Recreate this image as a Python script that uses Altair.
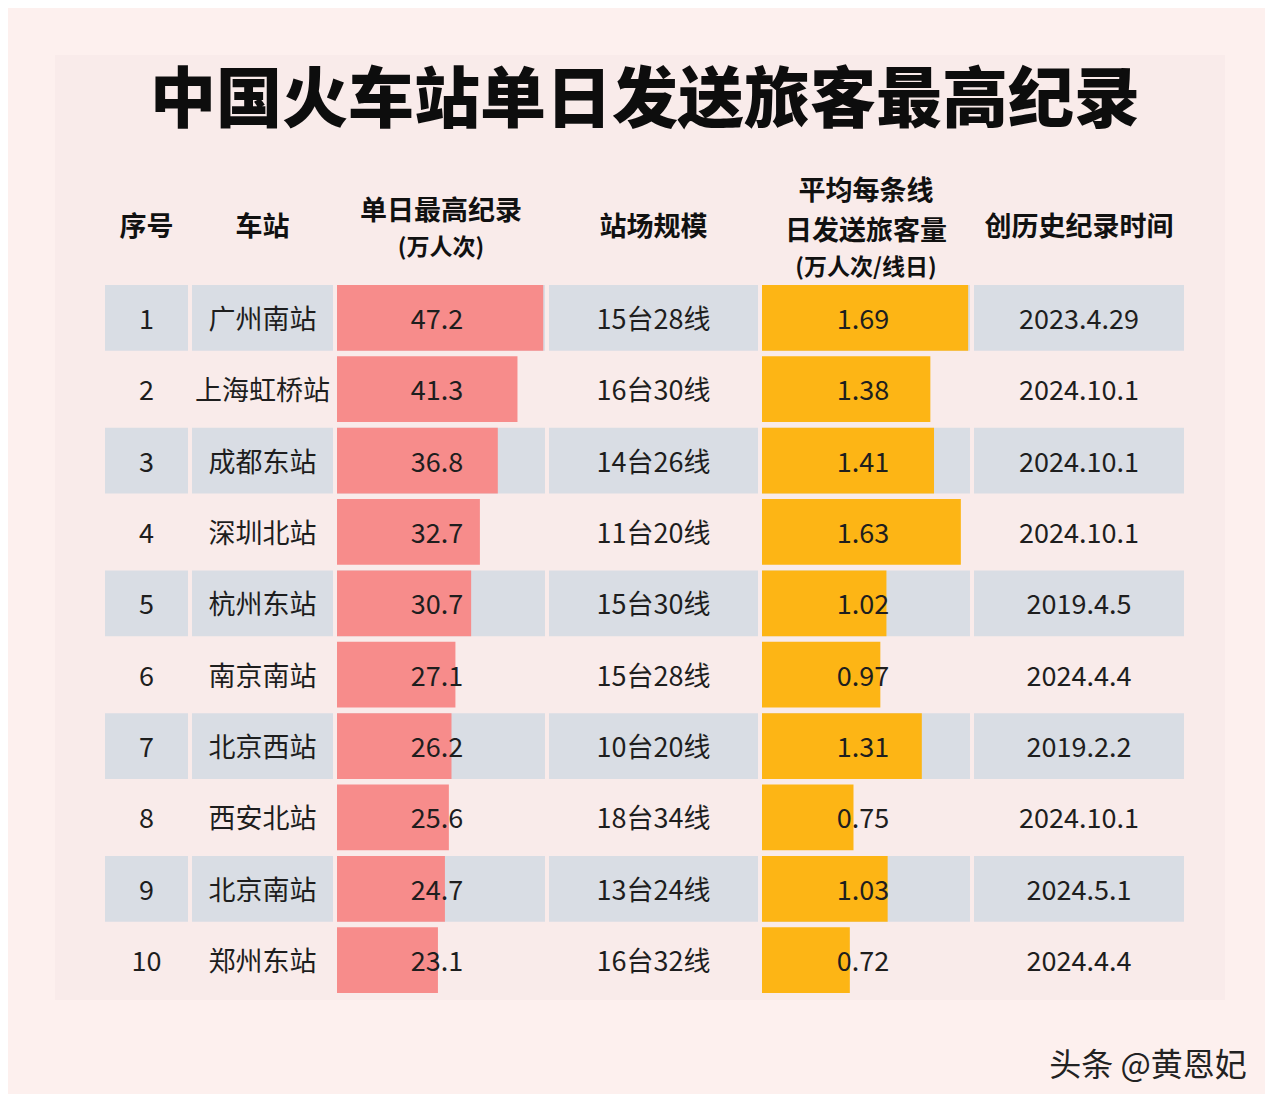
import altair as alt
import pandas as pd

# ---------------- data ----------------
ranks = [1, 2, 3, 4, 5, 6, 7, 8, 9, 10]
stations = ["广州南站", "上海虹桥站", "成都东站", "深圳北站", "杭州东站",
            "南京南站", "北京西站", "西安北站", "北京南站", "郑州东站"]
records = [47.2, 41.3, 36.8, 32.7, 30.7, 27.1, 26.2, 25.6, 24.7, 23.1]
yard_sizes = ["15台28线", "16台30线", "14台26线", "11台20线", "15台30线",
              "15台28线", "10台20线", "18台34线", "13台24线", "16台32线"]
per_line = [1.69, 1.38, 1.41, 1.63, 1.02, 0.97, 1.31, 0.75, 1.03, 0.72]
dates = ["2023.4.29", "2024.10.1", "2024.10.1", "2024.10.1", "2019.4.5",
         "2024.4.4", "2019.2.2", "2024.10.1", "2024.5.1", "2024.4.4"]

title_text = "中国火车站单日发送旅客最高纪录"
hdr_rank = "序号"
hdr_station = "车站"
hdr_record = ["单日最高纪录", "(万人次)"]
hdr_yard = "站场规模"
hdr_perline = ["平均每条线", "日发送旅客量", "(万人次/线日)"]
hdr_date = "创历史纪录时间"
watermark = "头条 @黄恩妃"

df = pd.DataFrame({
    "rank": ranks, "station": stations, "record": records,
    "yard": yard_sizes, "perline": per_line, "date": dates,
})
one = pd.DataFrame({"k": [0]})

# ---------------- style ----------------
FONT = "Noto Sans CJK SC"
BG = "#fdf0ee"
PANEL = "#f9ebea"
STRIPE = "#d9dde4"
RED = "#f78c8b"
ORANGE = "#fdb515"
TXT = "#1e1e1e"
H = 708
W = [83, 141, 208, 209, 208, 210]

y_enc = alt.Y("rank:O", axis=None, sort="ascending",
              scale=alt.Scale(paddingInner=0.08, paddingOuter=0))


def stripes(w):
    return alt.Chart(df).transform_filter("datum.rank % 2 == 1").mark_rect(
        color=STRIPE).encode(y=y_enc, x=alt.value(0), x2=alt.value(w))


def cells(field, w, fmt=None, x=None):
    t = alt.Text(field, format=fmt) if fmt else alt.Text(field)
    return alt.Chart(df).mark_text(font=FONT, fontSize=27, color=TXT, dy=3,
                                   align="center", baseline="middle").encode(
        y=y_enc, x=alt.value(w / 2 if x is None else x), text=t)


def label(text, x, y, size=27, weight="bold", color="#111111"):
    return alt.Chart(one).mark_text(text=text, font=FONT, fontSize=size,
                                    fontWeight=weight, color=color,
                                    align="center", baseline="middle").encode(
        x=alt.value(x), y=alt.value(y + 3))


# panel 1: rank (also carries the card background)
card = alt.Chart(one).mark_rect(color=PANEL).encode(
    x=alt.value(-50), x2=alt.value(1120), y=alt.value(-230), y2=alt.value(715))
p1 = alt.layer(card, stripes(W[0]), cells("rank:O", W[0]),
               label(hdr_rank, W[0] / 2, -60)).properties(width=W[0], height=H)

# panel 2: station
p2 = alt.layer(stripes(W[1]), cells("station:N", W[1]),
               label(hdr_station, W[1] / 2, -60)).properties(width=W[1], height=H)

# panel 3: record bars
bar_rec = alt.Chart(df).mark_bar(color=RED).encode(
    y=y_enc,
    x=alt.X("record:Q", axis=None,
            scale=alt.Scale(domain=[0, 47.6], nice=False, zero=True)))
p3 = alt.layer(stripes(W[2]), bar_rec, cells("record:Q", W[2], ".1f", x=W[2] / 2 - 4),
               label(hdr_record[0], W[2] / 2, -76),
               label(hdr_record[1], W[2] / 2, -40, size=23)
               ).properties(width=W[2], height=H)

# panel 4: yard size (+ main title)
p4 = alt.layer(stripes(W[3]), cells("yard:N", W[3]),
               label(hdr_yard, W[3] / 2, -60),
               label(title_text, 96, -186, size=66, weight=900, color="#0d0d0d")
               ).properties(width=W[3], height=H)

# panel 5: per-line bars
bar_pl = alt.Chart(df).mark_bar(color=ORANGE).encode(
    y=y_enc,
    x=alt.X("perline:Q", axis=None,
            scale=alt.Scale(domain=[0, 1.705], nice=False, zero=True)))
p5 = alt.layer(stripes(W[4]), bar_pl, cells("perline:Q", W[4], ".2f", x=W[4] / 2 - 3),
               label(hdr_perline[0], W[4] / 2, -96),
               label(hdr_perline[1], W[4] / 2, -56),
               label(hdr_perline[2], W[4] / 2, -20, size=23)
               ).properties(width=W[4], height=H)

# panel 6: date (+ watermark)
p6 = alt.layer(stripes(W[5]), cells("date:N", W[5]),
               label(hdr_date, W[5] / 2, -60),
               label(watermark, 174, 778, size=32, weight="normal", color="#222222")
               ).properties(width=W[5], height=H)

chart = alt.hconcat(p1, p2, p3, p4, p5, p6, spacing=4, bounds="flush").properties(
    padding={"left": 47, "top": 47, "right": 18, "bottom": 12},
    background=BG,
).configure_view(stroke=None)

chart.save("out.html", embed_options={"renderer": "svg", "actions": False})
